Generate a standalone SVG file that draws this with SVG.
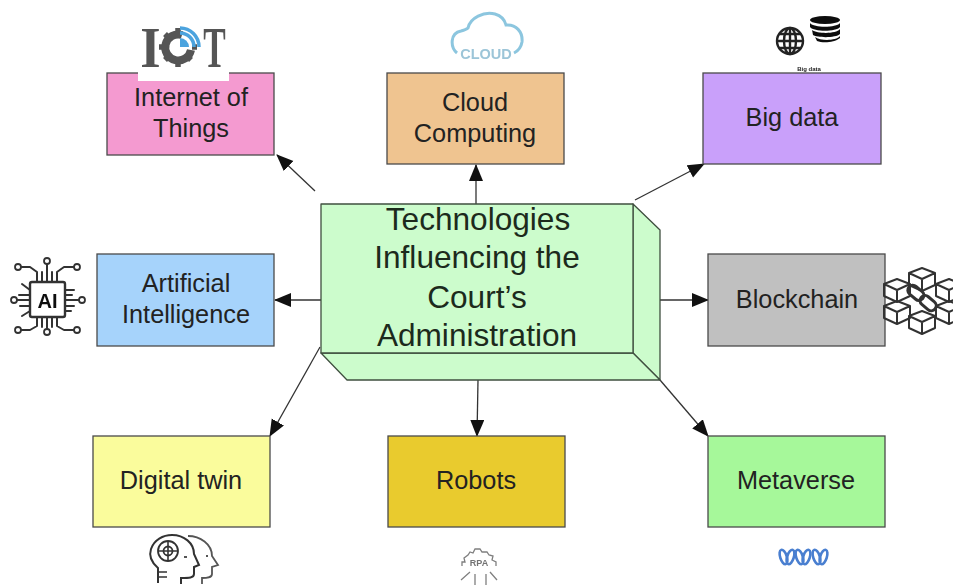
<svg xmlns="http://www.w3.org/2000/svg" xmlns:xlink="http://www.w3.org/1999/xlink" width="953" height="585" viewBox="0 0 953 585">
<style>
.box{stroke:#4a4a4a;stroke-width:1.3}
.lbl{font-family:"Liberation Sans",Arial,sans-serif;font-size:25.3px;fill:#222;text-anchor:middle}
.ctr{font-family:"Liberation Sans",Arial,sans-serif;font-size:31.6px;fill:#1c2a1c;text-anchor:middle}
.face{fill:#ccfccc;stroke:#3f4f3f;stroke-width:1.3;stroke-linejoin:round}
.conn{fill:none;stroke:#333;stroke-width:1.3}
.ic{fill:none;stroke:#333;stroke-width:2;stroke-linecap:round;stroke-linejoin:round}
</style>
<defs>
<marker id="ah" markerUnits="userSpaceOnUse" markerWidth="18" markerHeight="16" refX="16" refY="7" orient="auto"><path d="M0 0L17 7L0 14Z" fill="#111"/></marker>
<filter id="soft" x="-10%" y="-10%" width="120%" height="120%"><feGaussianBlur stdDeviation="0.45"/></filter>
<g id="cube"><path d="M-13 -6L0 -11L13 -6L13 6L0 12L-13 6Z M-13 -6L0 0L13 -6 M0 0V12" class="ic"/></g>
<circle id="pad" r="3" fill="#fff" stroke="#333" stroke-width="1.800"/>
<g id="loop" fill="none" stroke="#4a7fd0" stroke-width="2.600"><ellipse cx="-3.500" cy="0" rx="3.300" ry="7.500" transform="rotate(-18 -3.500 0)"/><ellipse cx="3.500" cy="0" rx="3.300" ry="7.500" transform="rotate(18 3.500 0)"/></g>
</defs>
<rect width="953" height="585" fill="#fff"/>

<g id="connectors">
<path class="conn" d="M315 191L277 155" marker-end="url(#ah)"/>
<path class="conn" d="M476 204L476 165" marker-end="url(#ah)"/>
<path class="conn" d="M635 200L704 164" marker-end="url(#ah)"/>
<path class="conn" d="M321 300L275 300" marker-end="url(#ah)"/>
<path class="conn" d="M660 300L708 300" marker-end="url(#ah)"/>
<path class="conn" d="M320 347L270 436" marker-end="url(#ah)"/>
<path class="conn" d="M478 380L477 436" marker-end="url(#ah)"/>
<path class="conn" d="M660 380L708 436" marker-end="url(#ah)"/>
</g>

<g id="node-iot">
<rect class="box" x="107" y="73" width="167" height="82" fill="#f49ad0"/>
<text class="lbl" x="191" y="106">Internet of</text>
<text class="lbl" x="191" y="137">Things</text>
<rect x="138" y="60" width="91" height="21" fill="#fff"/>
<g filter="url(#soft)">
<text transform="translate(150.500 67) scale(0.9 1)" font-family="'Liberation Serif',serif" font-weight="bold" font-size="58" fill="#555" text-anchor="middle">I</text>
<text transform="translate(214.500 67) scale(0.58 1)" font-family="'Liberation Serif',serif" font-weight="bold" font-size="58" fill="#555" text-anchor="middle">T</text>
<path d="M182 35A13 13 0 1 0 191 50" fill="none" stroke="#555" stroke-width="8"/>
<g stroke="#555" stroke-width="5.500">
<path d="M178 28V33M178 62V67M159 47H164M192 47H197M165 34L169 38M187 56L191 60M165 60L169 56"/>
</g>
<path d="M180 47L180 38A9 9 0 0 1 189 47Z" fill="#4ba3de"/>
<path d="M180 33A14 14 0 0 1 194 47M180 28A19 19 0 0 1 199 47" fill="none" stroke="#4ba3de" stroke-width="3.500"/>
</g>
</g>

<g id="node-cloud">
<rect class="box" x="387" y="73" width="177" height="91" fill="#efc490"/>
<text class="lbl" x="475" y="111">Cloud</text>
<text class="lbl" x="475" y="142">Computing</text>
<g filter="url(#soft)">
<path d="M457 53C450 47 450 33 461 31C465 30 467 29 468 28C470 18 484 11 495 14C502 16 505 21 506 25C516 24 523 32 522 42C521 48 518 51 514 53" fill="none" stroke="#8cc6df" stroke-width="3"/>
<text x="486" y="59" font-family="'Liberation Sans',sans-serif" font-weight="bold" font-size="14.500" fill="#9cc5d8" text-anchor="middle">CLOUD</text>
</g>
</g>

<g id="node-bigdata">
<rect class="box" x="703" y="73" width="178" height="91" fill="#c9a0fa"/>
<text class="lbl" x="792" y="126">Big data</text>
<g filter="url(#soft)">
<g fill="none" stroke="#222" stroke-width="2.400">
<circle cx="790" cy="41" r="13"/>
<ellipse cx="790" cy="41" rx="6" ry="13"/>
<path d="M790 28V54M777 41H803M779 34H801M779 48H801"/>
</g>
<ellipse cx="825" cy="20" rx="15" ry="4" fill="#111"/>
<path d="M810 23C814 28 836 28 840 23V27C836 32 814 32 810 27Z" fill="#111"/>
<path d="M812 30C818 34 836 34 840 29V34C836 38 818 38 813 35Z" fill="#111"/>
<path d="M815 37C820 41 836 41 840 36V38C834 43 822 43 817 41Z" fill="#111"/>
<text x="809" y="71" font-family="'Liberation Sans',sans-serif" font-weight="bold" font-size="6" fill="#222" text-anchor="middle">Big data</text>
</g>
</g>

<g id="node-ai">
<rect class="box" x="97" y="254" width="177" height="92" fill="#a6d3fb"/>
<text class="lbl" x="186" y="292">Artificial</text>
<text class="lbl" x="186" y="323">Intelligence</text>
<g filter="url(#soft)">
<path class="ic" d="M47 282V263M37 282V272L30 267H20M57 282V272L64 267H75M42 282V272M52 282V272
M47 317V332M37 317V326L30 330H20M57 317V326L64 330H75M42 317V327M52 317V327
M30 300H16M30 290L22 284M30 295H19M30 306H20M30 311L22 316
M65 300H80M65 290H74M65 295H72M65 306H74M65 311H71"/>
<rect x="30" y="282" width="35" height="35" rx="2" fill="#fff" stroke="#333" stroke-width="2.400"/>
<text x="47.500" y="308" font-family="'Liberation Sans',sans-serif" font-weight="bold" font-size="20" fill="#111" text-anchor="middle">AI</text>
<use xlink:href="#pad" href="#pad" x="47" y="261"/>
<use xlink:href="#pad" href="#pad" x="18" y="267"/>
<use xlink:href="#pad" href="#pad" x="77" y="267"/>
<use xlink:href="#pad" href="#pad" x="14" y="300"/>
<use xlink:href="#pad" href="#pad" x="82" y="300"/>
<use xlink:href="#pad" href="#pad" x="18" y="330"/>
<use xlink:href="#pad" href="#pad" x="77" y="330"/>
<use xlink:href="#pad" href="#pad" x="47" y="332"/>
</g>
</g>

<g id="node-blockchain">
<rect class="box" x="708" y="254" width="177" height="92" fill="#c0c0c0"/>
<text class="lbl" x="797" y="308">Blockchain</text>
<g filter="url(#soft)">
<use xlink:href="#cube" href="#cube" x="922" y="279"/>
<use xlink:href="#cube" href="#cube" x="897" y="290"/>
<use xlink:href="#cube" href="#cube" x="949" y="290"/>
<use xlink:href="#cube" href="#cube" x="897" y="312"/>
<use xlink:href="#cube" href="#cube" x="949" y="312"/>
<use xlink:href="#cube" href="#cube" x="922" y="322"/>
<g transform="rotate(40 922 298)" fill="none" stroke="#333" stroke-width="3">
<rect x="905" y="293" width="18" height="10" rx="5"/>
<rect x="921" y="293" width="18" height="10" rx="5"/>
</g>
</g>
</g>

<g id="node-twin">
<rect class="box" x="93" y="436" width="177" height="91" fill="#fafc9c"/>
<text class="lbl" x="181" y="489">Digital twin</text>
<g filter="url(#soft)">
<path d="M188 536C200 536 212 544 212 556L218 565L212 567V574C212 578 207 578 202 578V584" fill="none" stroke="#555" stroke-width="1.800"/>
<path d="M158 583V568C151 562 149 555 151 549C154 540 163 535 172 535C184 535 194 543 194 554L199 565L194 567V574C194 578 189 578 181 578V584" fill="#fff" stroke="#333" stroke-width="2"/>
<circle cx="168" cy="551" r="10" fill="none" stroke="#333" stroke-width="1.800"/>
<circle cx="168" cy="551" r="4.500" fill="none" stroke="#333" stroke-width="1.800"/>
<path d="M168 541V561M158 551H178M159 572H167M159 577H167" fill="none" stroke="#333" stroke-width="1.600"/>
<path d="M184 557H187M206 556H208" fill="none" stroke="#555" stroke-width="2.200"/>
</g>
</g>

<g id="node-robots">
<rect class="box" x="388" y="436" width="177" height="91" fill="#e9cb2e"/>
<text class="lbl" x="476" y="489">Robots</text>
<g filter="url(#soft)" opacity="0.75">
<path fill="none" stroke="#555" stroke-width="1.300" d="M462 566V562H465L464 558L468 555L470 552L473 553L475 549L480 549L482 552L487 552L489 555L493 556L492 560L496 562V566M461 580L470 572M475 574V585M486 574V585M497 580L490 572"/>
<text x="479" y="566" font-family="'Liberation Sans',sans-serif" font-size="9" font-weight="bold" fill="#444" text-anchor="middle">RPA</text>
</g>
</g>

<g id="node-metaverse">
<rect class="box" x="708" y="436" width="177" height="91" fill="#a6f89a"/>
<text class="lbl" x="796" y="489">Metaverse</text>
<g filter="url(#soft)">
<use xlink:href="#loop" href="#loop" x="787" y="557"/>
<use xlink:href="#loop" href="#loop" x="803" y="557"/>
<use xlink:href="#loop" href="#loop" x="820" y="557"/>
</g>
</g>

<g id="node-center">
<path class="face" d="M633 204L660 230V380L633 353Z"/>
<path class="face" d="M321 353H633L660 380H347Z"/>
<rect class="face" x="321" y="204" width="312" height="149"/>
<text class="ctr" x="478" y="230">Technologies</text>
<text class="ctr" x="477" y="268">Influencing the</text>
<text class="ctr" x="477" y="308">Court’s</text>
<text class="ctr" x="477" y="346">Administration</text>
</g>
</svg>
